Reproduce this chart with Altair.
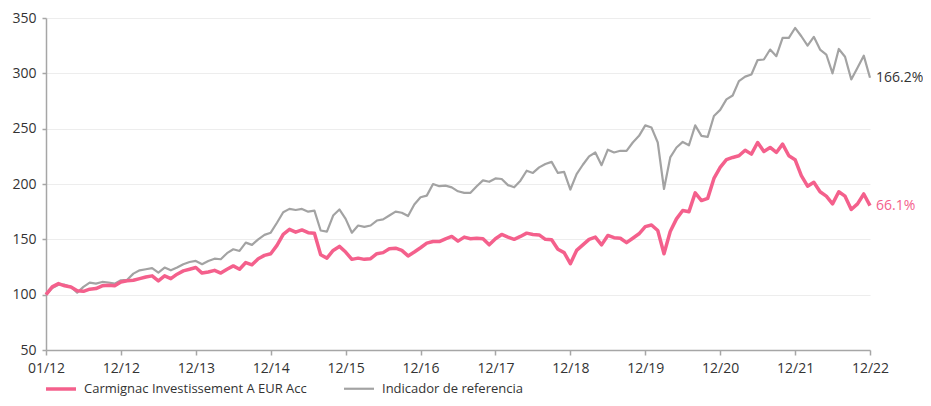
import json
import altair as alt
import pandas as pd

# ---- data (base 100, monthly) ----
fund = [
    100, 107, 110, 108, 107, 103.6, 103, 105, 105.5, 108,
    108.5, 108, 111.5, 112.5, 113, 114.5, 116, 117, 112.5, 117,
    114.5, 118.5, 121.5, 123, 124.5, 119.5, 120.5, 122, 119.5, 123,
    126, 123, 129, 127, 132.5, 135.5, 137, 144.5, 154.5, 159,
    156.5, 158.5, 156, 155.5, 136, 133, 140, 143.6, 138.5, 131.9,
    133, 131.9, 132.5, 137, 138, 141.5, 142, 140, 135, 138.5,
    142.4, 146.6, 148, 148, 150.5, 152.6, 148.4, 152, 150.5, 151,
    150.5, 145, 150.5, 154.4, 152, 150, 152.6, 155.6, 154.4, 154,
    150, 149.6, 141, 138, 128, 140, 145, 150, 152, 145,
    153.5, 151.5, 151, 147, 151, 155, 161.5, 163, 158, 137,
    157, 168.5, 176, 175, 192, 185, 187, 205, 215, 222,
    224, 225.5, 230.5, 227, 237.5, 229.4, 233, 228.5, 236, 225.5,
    222, 207.5, 198, 201.5, 193, 189, 182, 193, 189, 177,
    182, 191, 180.5,
]
bench = [
    100, 106, 109, 109, 107, 101.8, 107, 110.9, 110, 111.5,
    111, 110, 113, 113.5, 119, 122, 123, 124, 120, 124.5,
    122, 124.5, 127.5, 129.5, 130.5, 127.5, 130.5, 132.5, 132, 137.5,
    141, 139.5, 147, 145, 150, 154, 156, 165, 174.5, 177.5,
    176.5, 177.5, 175, 176, 158, 157, 171.5, 177, 168.5, 156,
    162.5, 161.3, 162.5, 167, 168, 171.5, 175, 174, 171, 181.4,
    188, 189.5, 200, 198, 198.5, 197, 193.4, 192, 192, 198,
    203.3, 202, 205, 204.5, 199, 197, 203, 212, 210, 215,
    218, 220, 210, 211, 195, 209, 217.4, 225, 228.5, 217,
    231, 228.5, 230, 230, 237.5, 243.5, 253, 251, 237.5, 195.5,
    224, 233, 238, 235, 253, 243.5, 242.6, 261.5, 267, 276.5,
    280, 293, 297, 299, 312, 312.5, 321.5, 315.5, 332, 332,
    341, 333.5, 325, 333, 321.5, 317, 300, 322, 315, 294.5,
    305, 316, 296,
]
series_names = ["Carmignac Investissement A EUR Acc", "Indicador de referencia"]
x_tick_labels = ["01/12", "12/12", "12/13", "12/14", "12/15", "12/16",
                 "12/17", "12/18", "12/19", "12/20", "12/21", "12/22"]
y_ticks = [50, 100, 150, 200, 250, 300, 350]
end_labels = ["66.1%", "166.2%"]

# ---- styling ----
line_colors = ["#f4608c", "#a3a3a3"]
label_colors = ["#f4608c", "#333333"]
FONT = "Open Sans"

rows = []
for i, (f, b) in enumerate(zip(fund, bench)):
    rows.append({"i": i, "v": f, "s": series_names[0]})
    rows.append({"i": i, "v": b, "s": series_names[1]})
df = pd.DataFrame(rows)

last = len(fund) - 1
end_df = pd.DataFrame({
    "i": [last, last],
    "v": [fund[-1], bench[-1]],
    "s": series_names,
    "t": end_labels,
    "c": label_colors,
})

n_last = 12 * (len(x_tick_labels) - 1)
label_expr = f"{json.dumps(x_tick_labels)}[round(datum.value / 12)]"

x_enc = alt.X(
    "i:Q",
    scale=alt.Scale(domain=[0, n_last], nice=False, zero=False),
    axis=alt.Axis(
        values=list(range(0, n_last + 1, 12)),
        labelExpr=label_expr,
        title=None,
        grid=False,
        tickSize=5,
        labelPadding=6,
        labelFlush=False,
        labelOverlap=False,
    ),
)
y_enc = alt.Y(
    "v:Q",
    scale=alt.Scale(domain=[50, 350], nice=False, zero=False),
    axis=alt.Axis(values=y_ticks, title=None, grid=True, tickSize=4, labelPadding=6),
)
color_enc = alt.Color(
    "s:N",
    scale=alt.Scale(domain=series_names, range=line_colors),
    legend=alt.Legend(title=None),
)
width_enc = alt.StrokeWidth(
    "s:N",
    scale=alt.Scale(domain=series_names, range=[3.5, 2.2]),
    legend=None,
)

bench_line = alt.Chart(df).transform_filter(
    alt.datum.s == series_names[1]
).mark_line(strokeJoin="round").encode(x=x_enc, y=y_enc, color=color_enc, strokeWidth=width_enc)

fund_line = alt.Chart(df).transform_filter(
    alt.datum.s == series_names[0]
).mark_line(strokeJoin="round").encode(x=x_enc, y=y_enc, color=color_enc, strokeWidth=width_enc)

labels = alt.Chart(end_df).mark_text(
    align="left", baseline="middle", dx=6, font=FONT, fontSize=14
).encode(
    x=alt.X("i:Q"),
    y=alt.Y("v:Q"),
    text="t:N",
    color=alt.Color("c:N", scale=None),
)

chart = alt.layer(bench_line, fund_line, labels).properties(
    width=824,
    height=332,
    autosize=alt.AutoSizeParams(type="none"),
    padding={"left": 38, "top": 10, "right": 53, "bottom": 48},
).configure_view(
    stroke=None
).configure_axis(
    labelFont=FONT,
    labelFontSize=14,
    labelColor="#333333",
    domainColor="#a6a6a6",
    domainWidth=1.5,
    tickColor="#a6a6a6",
    tickWidth=1.5,
    gridColor="#ededed",
    gridWidth=1,
).configure_legend(
    orient="none",
    legendX=-2,
    legendY=354,
    direction="horizontal",
    columns=2,
    symbolType="stroke",
    symbolSize=900,
    symbolStrokeWidth=3,
    labelFont=FONT,
    labelFontSize=13,
    labelLimit=0,
    labelColor="#333333",
    labelOffset=6,
    columnPadding=32,
)

chart.save("out.html", embed_options={"renderer": "svg", "actions": False})
